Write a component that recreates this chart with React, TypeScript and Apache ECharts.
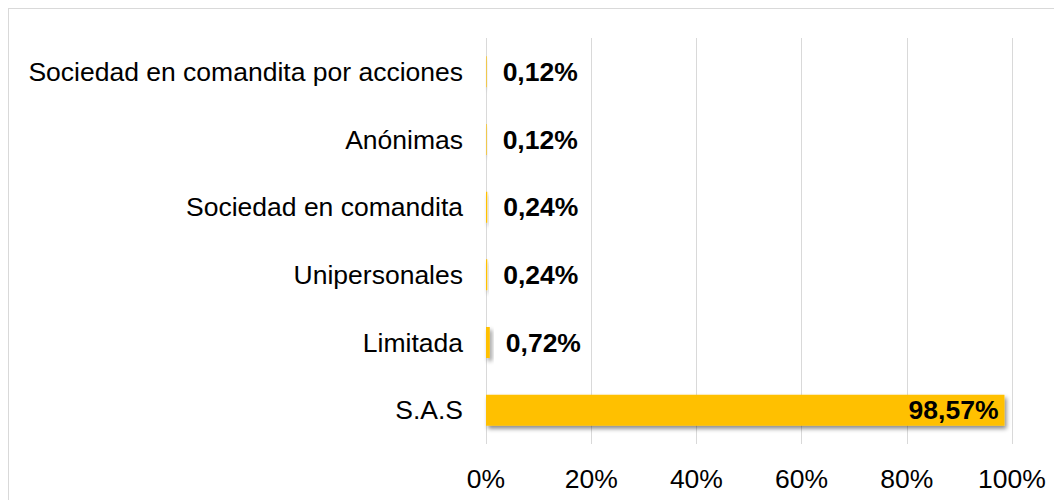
import React, { useEffect, useRef } from "react";
import * as echarts from "echarts";

const categories = [
  "S.A.S",
  "Limitada",
  "Unipersonales",
  "Sociedad en comandita",
  "Anónimas",
  "Sociedad en comandita por acciones",
];
const values = [98.57, 0.72, 0.24, 0.24, 0.12, 0.12];
const xTicks = [0, 20, 40, 60, 80, 100];

const FONT = "Arial, 'Liberation Sans', sans-serif";

export default function App() {
  const ref = useRef<HTMLDivElement>(null);
  useEffect(() => {
    if (!ref.current) return;
    const chart = echarts.init(ref.current, undefined, { renderer: "svg" });
    const fmt = (v: number) => v.toFixed(2).replace(".", ",") + "%";
    chart.setOption({
      animation: false,
      grid: { left: 477, top: 29, width: 526, height: 406, containLabel: false },
      xAxis: {
        type: "value",
        min: xTicks[0],
        max: xTicks[xTicks.length - 1],
        interval: 20,
        axisLine: { show: false },
        axisTick: { show: false },
        splitLine: { show: true, lineStyle: { color: "#d9d9d9", width: 1 } },
        axisLabel: {
          formatter: (v: number) => v + "%",
          fontFamily: FONT,
          fontSize: 26.5,
          color: "#000",
          margin: 21,
        },
      },
      yAxis: {
        type: "category",
        data: categories,
        axisLine: { show: false },
        axisTick: { show: false },
        splitLine: { show: false },
        axisLabel: {
          fontFamily: FONT,
          fontSize: 26.5,
          color: "#000",
          margin: 23,
        },
      },
      series: [
        {
          type: "bar",
          barWidth: 31,
          data: values.map((v) => ({
            value: v,
            label: v > 50 ? { position: "insideRight", distance: 6 } : { position: "right", distance: 16 },
          })),
          itemStyle: {
            color: "#FFC000",
            shadowColor: "rgba(0,0,0,0.45)",
            shadowBlur: 4,
            shadowOffsetX: 2,
            shadowOffsetY: 3,
          },
          label: {
            show: true,
            formatter: (p: any) => fmt(p.value),
            fontFamily: FONT,
            fontSize: 26.5,
            fontWeight: "bold",
            color: "#000",
          },
        },
      ],
    });
    return () => chart.dispose();
  }, []);
  return (
    <div
      ref={ref}
      style={{
        width: 1053,
        height: 491,
        borderTop: "1px solid #d9d9d9",
        borderLeft: "1px solid #d9d9d9",
      }}
    />
  );
}
